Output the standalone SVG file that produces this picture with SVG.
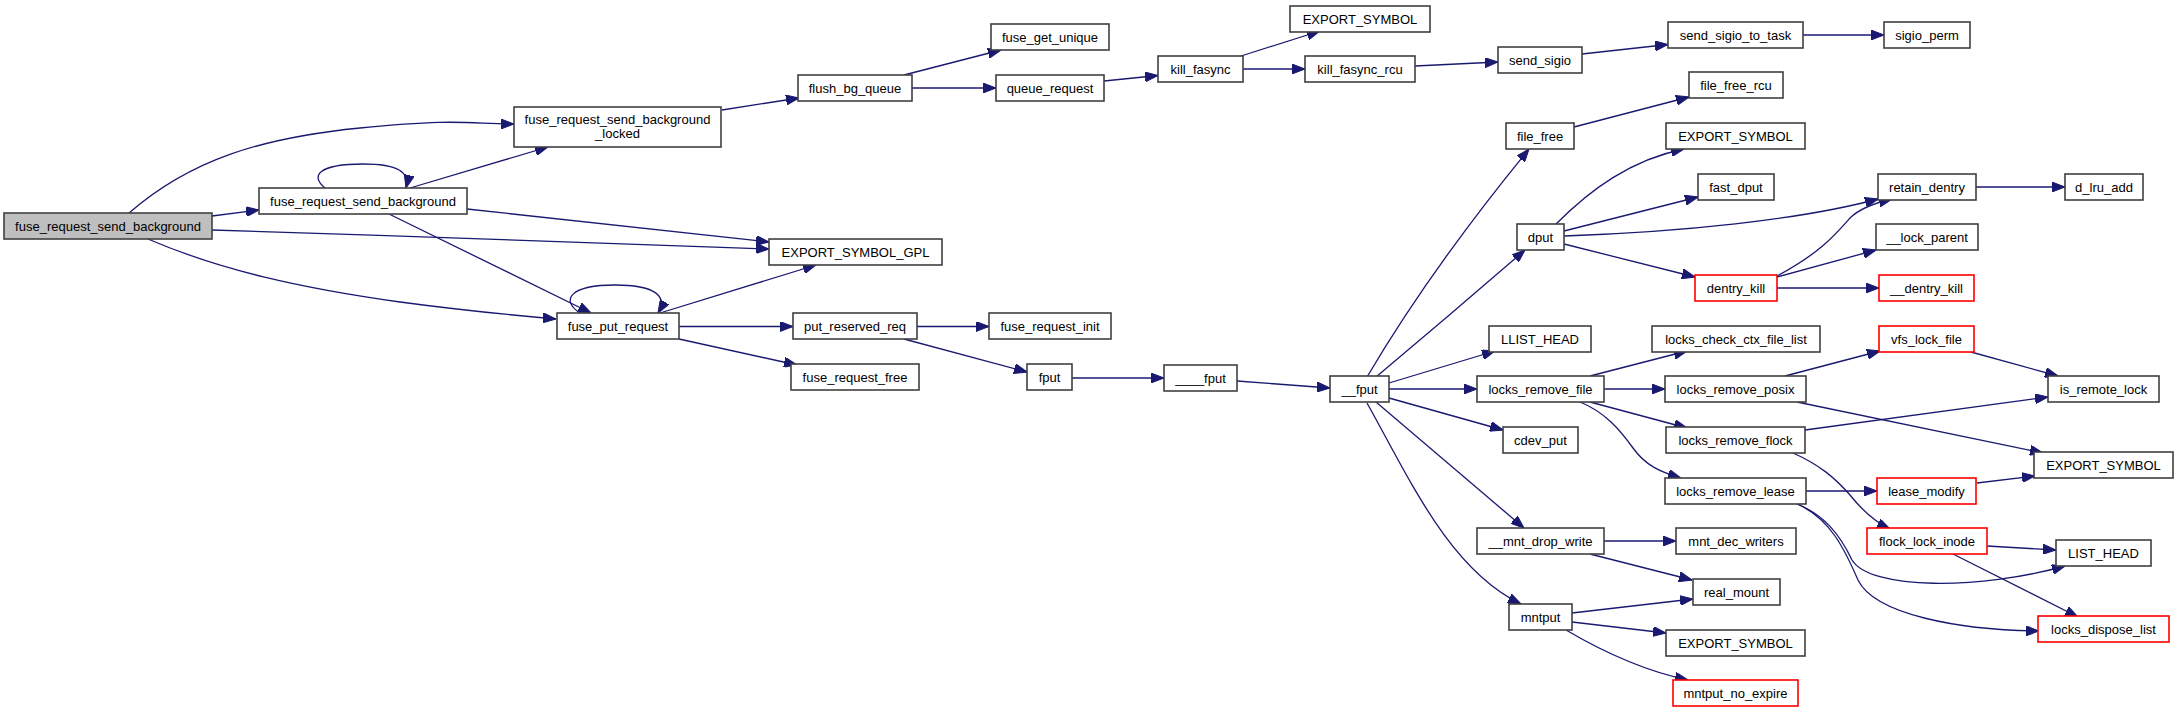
<svg xmlns="http://www.w3.org/2000/svg" width="2179" height="712" viewBox="0 0 2179 712">
<style>
.n rect{fill:#fff;stroke:#404040;stroke-width:1.6}
.n.r rect{stroke:#ff0000}
.n.g rect{fill:#bfbfbf}
.n text{font-family:"Liberation Sans",Arial,Helvetica,sans-serif;font-size:13px;text-anchor:middle;fill:#000}
#edges path{fill:none;stroke:#191970;stroke-width:1.3;marker-end:url(#a)}
</style>
<defs>
<marker id="a" markerUnits="userSpaceOnUse" markerWidth="13" markerHeight="10" refX="13" refY="5" orient="auto">
<path d="M0,0 L13,5 L0,10 z" fill="#191970" stroke="#191970" stroke-width="1"/>
</marker>
</defs>
<rect width="2179" height="712" fill="#fff"/>
<g id="edges">
<path d="M212,216 L259,210"/>
<path d="M129,213 C190,160 260,138 360,128 S470,124 514,124"/>
<path d="M212,230 C400,236 600,242 769,249"/>
<path d="M148,239 C220,270 300,288 400,302 C460,310 510,315 556,319"/>
<path d="M325,188 C310,176 318,164 363,164 C398,164 410,172 406,188"/>
<path d="M410,188 L548,147"/>
<path d="M467,209 L769,242"/>
<path d="M389,214 L591,313"/>
<path d="M580,313 C560,300 570,285 615,285 C655,285 668,296 658,313"/>
<path d="M660,313 L816,265"/>
<path d="M679,326.5 L793,326.5"/>
<path d="M679,339 L797,365"/>
<path d="M722,110 L799,98"/>
<path d="M904,75 L1001,50"/>
<path d="M912,88 L996,88"/>
<path d="M1104,81 L1158,75.5"/>
<path d="M1241,56 L1320,31"/>
<path d="M1243,69 L1305,69"/>
<path d="M1415,66 L1498,62"/>
<path d="M1582,54 L1668,44.5"/>
<path d="M1803,35 L1884,35"/>
<path d="M917,326.5 L989,326.5"/>
<path d="M904,339 L1027,372"/>
<path d="M1072,378 L1164,378"/>
<path d="M1237,381 L1330,388"/>
<path d="M1367,377 Q1430,270 1529,149"/>
<path d="M1376,377 Q1450,315 1525,250"/>
<path d="M1389,383 L1495,351"/>
<path d="M1389,389 L1477,389"/>
<path d="M1389,398 L1503,430"/>
<path d="M1376,402 L1524,528"/>
<path d="M1367,403 C1410,480 1450,570 1521,604"/>
<path d="M1556,224 C1590,190 1630,160 1684,149"/>
<path d="M1564,231 L1698,197"/>
<path d="M1564,236 C1680,232 1800,220 1878,199"/>
<path d="M1564,244 L1695,277"/>
<path d="M1574,127 L1689,97"/>
<path d="M1976,187 L2065,187"/>
<path d="M1777,276 C1820,253 1835,235 1850,218 C1860,208 1875,203 1892,199"/>
<path d="M1777,277 L1876,250"/>
<path d="M1777,288 L1879,288"/>
<path d="M1590,376 L1687,351"/>
<path d="M1604,389 L1665,389"/>
<path d="M1590,402 L1687,428"/>
<path d="M1580,402 C1605,412 1620,430 1633,448 C1645,465 1660,472 1681,478"/>
<path d="M1785,376 L1880,351"/>
<path d="M1797,402 L2043,453"/>
<path d="M1971,352 L2058,376"/>
<path d="M1805,430 L2048,397"/>
<path d="M1793,453 C1820,465 1835,478 1850,495 C1862,510 1875,522 1890,529"/>
<path d="M1806,491 L1877,491"/>
<path d="M1795,503 C1825,515 1840,535 1852,560 C1870,590 1980,590 2065,566"/>
<path d="M1797,504 C1830,518 1845,550 1858,580 C1875,615 1960,630 2039,631"/>
<path d="M1977,483 L2035,476"/>
<path d="M1987,546 L2056,550"/>
<path d="M1953,554 L2078,617"/>
<path d="M1604,541 L1676,541"/>
<path d="M1590,554 L1692,580"/>
<path d="M1572,613 L1693,599"/>
<path d="M1572,622 L1666,633"/>
<path d="M1566,630 C1600,650 1640,670 1688,680"/>
</g>
<g id="n_root" class="n g"><rect x="4" y="213" width="208" height="26"/><text x="108" y="230.5">fuse_request_send_background</text></g>
<g id="n_frsb" class="n"><rect x="259" y="188" width="208" height="26"/><text x="363" y="205.5">fuse_request_send_background</text></g>
<g id="n_locked" class="n"><rect x="514" y="107" width="207" height="40"/><text x="617.5" y="123.5">fuse_request_send_background</text><text x="617.5" y="137.5">_locked</text></g>
<g id="n_fuse_put_request" class="n"><rect x="557" y="313" width="122" height="26"/><text x="618" y="330.5">fuse_put_request</text></g>
<g id="n_export_gpl" class="n"><rect x="769" y="239" width="173" height="26"/><text x="855.5" y="256.5">EXPORT_SYMBOL_GPL</text></g>
<g id="n_flush_bg_queue" class="n"><rect x="798" y="75" width="114" height="26"/><text x="855" y="92.5">flush_bg_queue</text></g>
<g id="n_fuse_get_unique" class="n"><rect x="991" y="24" width="118" height="26"/><text x="1050" y="41.5">fuse_get_unique</text></g>
<g id="n_queue_request" class="n"><rect x="996" y="75" width="108" height="26"/><text x="1050" y="92.5">queue_request</text></g>
<g id="n_kill_fasync" class="n"><rect x="1158" y="56" width="85" height="26"/><text x="1200.5" y="73.5">kill_fasync</text></g>
<g id="n_export_1" class="n"><rect x="1290" y="6" width="140" height="26"/><text x="1360" y="23.5">EXPORT_SYMBOL</text></g>
<g id="n_kill_fasync_rcu" class="n"><rect x="1305" y="56" width="110" height="26"/><text x="1360" y="73.5">kill_fasync_rcu</text></g>
<g id="n_send_sigio" class="n"><rect x="1498" y="47" width="84" height="26"/><text x="1540" y="64.5">send_sigio</text></g>
<g id="n_send_sigio_to_task" class="n"><rect x="1668" y="22" width="135" height="26"/><text x="1735.5" y="39.5">send_sigio_to_task</text></g>
<g id="n_sigio_perm" class="n"><rect x="1884" y="22" width="86" height="26"/><text x="1927" y="39.5">sigio_perm</text></g>
<g id="n_put_reserved_req" class="n"><rect x="793" y="313" width="124" height="26"/><text x="855" y="330.5">put_reserved_req</text></g>
<g id="n_fuse_request_init" class="n"><rect x="989" y="313" width="122" height="26"/><text x="1050" y="330.5">fuse_request_init</text></g>
<g id="n_fuse_request_free" class="n"><rect x="791" y="364" width="128" height="26"/><text x="855" y="381.5">fuse_request_free</text></g>
<g id="n_fput" class="n"><rect x="1027" y="364" width="45" height="26"/><text x="1049.5" y="381.5">fput</text></g>
<g id="n____fput" class="n"><rect x="1164" y="365" width="73" height="26"/><text x="1200.5" y="382.5">____fput</text></g>
<g id="n___fput" class="n"><rect x="1330" y="376" width="59" height="26"/><text x="1359.5" y="393.5">__fput</text></g>
<g id="n_file_free" class="n"><rect x="1506" y="123" width="68" height="26"/><text x="1540" y="140.5">file_free</text></g>
<g id="n_file_free_rcu" class="n"><rect x="1689" y="72" width="94" height="26"/><text x="1736" y="89.5">file_free_rcu</text></g>
<g id="n_export_2" class="n"><rect x="1666" y="123" width="139" height="26"/><text x="1735.5" y="140.5">EXPORT_SYMBOL</text></g>
<g id="n_fast_dput" class="n"><rect x="1698" y="174" width="76" height="26"/><text x="1736" y="191.5">fast_dput</text></g>
<g id="n_retain_dentry" class="n"><rect x="1878" y="174" width="98" height="26"/><text x="1927" y="191.5">retain_dentry</text></g>
<g id="n_d_lru_add" class="n"><rect x="2065" y="174" width="78" height="26"/><text x="2104" y="191.5">d_lru_add</text></g>
<g id="n_dput" class="n"><rect x="1517" y="224" width="47" height="26"/><text x="1540.5" y="241.5">dput</text></g>
<g id="n___lock_parent" class="n"><rect x="1876" y="224" width="102" height="26"/><text x="1927" y="241.5">__lock_parent</text></g>
<g id="n_dentry_kill" class="n r"><rect x="1695" y="275" width="82" height="26"/><text x="1736" y="292.5">dentry_kill</text></g>
<g id="n___dentry_kill" class="n r"><rect x="1879" y="275" width="95" height="26"/><text x="1926.5" y="292.5">__dentry_kill</text></g>
<g id="n_llist_head" class="n"><rect x="1489" y="326" width="102" height="26"/><text x="1540" y="343.5">LLIST_HEAD</text></g>
<g id="n_locks_check_ctx_file_list" class="n"><rect x="1652" y="326" width="168" height="26"/><text x="1736" y="343.5">locks_check_ctx_file_list</text></g>
<g id="n_vfs_lock_file" class="n r"><rect x="1879" y="326" width="95" height="26"/><text x="1926.5" y="343.5">vfs_lock_file</text></g>
<g id="n_locks_remove_file" class="n"><rect x="1477" y="376" width="127" height="26"/><text x="1540.5" y="393.5">locks_remove_file</text></g>
<g id="n_locks_remove_posix" class="n"><rect x="1665" y="376" width="141" height="26"/><text x="1735.5" y="393.5">locks_remove_posix</text></g>
<g id="n_is_remote_lock" class="n"><rect x="2048" y="376" width="111" height="26"/><text x="2103.5" y="393.5">is_remote_lock</text></g>
<g id="n_cdev_put" class="n"><rect x="1503" y="427" width="75" height="26"/><text x="1540.5" y="444.5">cdev_put</text></g>
<g id="n_locks_remove_flock" class="n"><rect x="1666" y="427" width="139" height="26"/><text x="1735.5" y="444.5">locks_remove_flock</text></g>
<g id="n_export_3" class="n"><rect x="2034" y="452" width="139" height="26"/><text x="2103.5" y="469.5">EXPORT_SYMBOL</text></g>
<g id="n_locks_remove_lease" class="n"><rect x="1665" y="478" width="141" height="26"/><text x="1735.5" y="495.5">locks_remove_lease</text></g>
<g id="n_lease_modify" class="n r"><rect x="1877" y="478" width="99" height="26"/><text x="1926.5" y="495.5">lease_modify</text></g>
<g id="n___mnt_drop_write" class="n"><rect x="1477" y="528" width="127" height="26"/><text x="1540.5" y="545.5">__mnt_drop_write</text></g>
<g id="n_mnt_dec_writers" class="n"><rect x="1676" y="528" width="120" height="26"/><text x="1736" y="545.5">mnt_dec_writers</text></g>
<g id="n_flock_lock_inode" class="n r"><rect x="1867" y="528" width="120" height="26"/><text x="1927" y="545.5">flock_lock_inode</text></g>
<g id="n_list_head" class="n"><rect x="2056" y="540" width="95" height="26"/><text x="2103.5" y="557.5">LIST_HEAD</text></g>
<g id="n_real_mount" class="n"><rect x="1693" y="579" width="87" height="26"/><text x="1736.5" y="596.5">real_mount</text></g>
<g id="n_mntput" class="n"><rect x="1509" y="604" width="63" height="26"/><text x="1540.5" y="621.5">mntput</text></g>
<g id="n_locks_dispose_list" class="n r"><rect x="2038" y="616" width="131" height="26"/><text x="2103.5" y="633.5">locks_dispose_list</text></g>
<g id="n_export_4" class="n"><rect x="1666" y="630" width="139" height="26"/><text x="1735.5" y="647.5">EXPORT_SYMBOL</text></g>
<g id="n_mntput_no_expire" class="n r"><rect x="1673" y="680" width="125" height="26"/><text x="1735.5" y="697.5">mntput_no_expire</text></g>
</svg>
